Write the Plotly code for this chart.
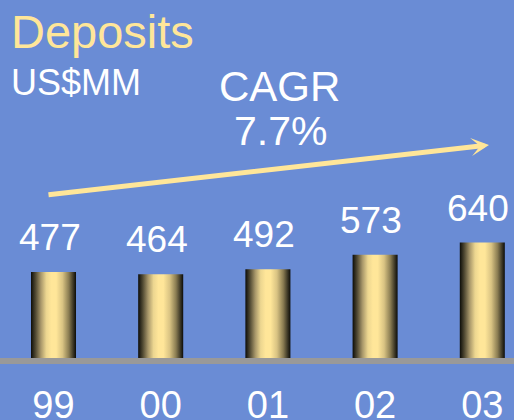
import plotly.graph_objects as go

# ---- data ----
years = ["99", "00", "01", "02", "03"]
deposits = [477, 464, 492, 573, 640]
title_text = "Deposits"
unit_text = "US$MM"
cagr_label = "CAGR"
cagr_value = "7.7%"

# ---- style ----
BG = "#6A8CD5"
GOLD = "#FFE699"
FONT = "Liberation Sans, Arial, sans-serif"
W, H = 514, 420
MT, MB = 0, 62
PH = H - MT - MB
PX_PER_CAT = 107.2
FIRST_CENTER = 53.5
BAR_HALF = 0.21
Y_SCALE = 0.1803  # px per unit

grad = [
    [0.0, "#0c0c08"], [0.1, "#4f4832"], [0.22, "#a8976a"], [0.34, "#ecd690"],
    [0.45, "#FFE699"], [0.56, "#FFE699"], [0.7, "#d9c383"], [0.84, "#8a7c52"],
    [0.94, "#3a3524"], [1.0, "#0c0c08"],
]

fig = go.Figure()
for i, v in enumerate(deposits):
    fig.add_trace(go.Scatter(
        x=[i - BAR_HALF, i + BAR_HALF, i + BAR_HALF, i - BAR_HALF, i - BAR_HALF],
        y=[0, 0, v, v, 0],
        fill="toself", mode="lines", line=dict(width=0, color="rgba(0,0,0,0)"),
        fillgradient=dict(type="horizontal", colorscale=grad),
        hoverinfo="skip", showlegend=False,
    ))

annotations = []
for i, v in enumerate(deposits):
    annotations.append(dict(
        x=i, y=v, xref="x", yref="y", text=str(v), showarrow=False,
        yanchor="bottom", yshift=12, xshift=-4,
        font=dict(family=FONT, size=37, color="white"),
    ))

annotations += [
    dict(x=9 / W, y=1 - 3 / PH, xref="paper", yref="paper", text=title_text,
         showarrow=False, xanchor="left", yanchor="top",
         font=dict(family=FONT, size=47, color=GOLD)),
    dict(x=9 / W, y=1 - 60 / PH, xref="paper", yref="paper", text=unit_text,
         showarrow=False, xanchor="left", yanchor="top",
         font=dict(family=FONT, size=36, color="white")),
    dict(x=279.5 / W, y=1 - 61 / PH, xref="paper", yref="paper", text=cagr_label,
         showarrow=False, xanchor="center", yanchor="top",
         font=dict(family=FONT, size=42, color="white")),
    dict(x=280 / W, y=1 - 106 / PH, xref="paper", yref="paper", text=cagr_value,
         showarrow=False, xanchor="center", yanchor="top",
         font=dict(family=FONT, size=41, color="white")),
    dict(x=489 / W, y=1 - 145 / PH, xref="paper", yref="paper", text="",
         showarrow=True, ax=-442, ay=50, arrowhead=3, arrowsize=0.6,
         arrowwidth=5, arrowcolor=GOLD, standoff=0),
]

fig.update_layout(
    width=W, height=H, autosize=False,
    margin=dict(l=0, r=0, t=MT, b=MB, pad=0),
    paper_bgcolor=BG, plot_bgcolor=BG,
    showlegend=False,
    annotations=annotations,
    shapes=[dict(type="rect", xref="paper", yref="paper", x0=0, x1=1,
                 y0=0, y1=-6 / PH, fillcolor="#999999", line=dict(width=0),
                 layer="above")],
    xaxis=dict(
        range=[-FIRST_CENTER / PX_PER_CAT, (W - FIRST_CENTER) / PX_PER_CAT],
        tickvals=list(range(len(years))), ticktext=years,
        tickfont=dict(family=FONT, size=38, color="white"),
        showgrid=False, zeroline=False, showline=False, ticks="",
        ticklabelstandoff=21, automargin=False,
        fixedrange=True,
    ),
    yaxis=dict(range=[0, PH / Y_SCALE], visible=False, showgrid=False,
               zeroline=False, fixedrange=True, automargin=False),
)

fig.write_html(
    "out.html",
    config={"displayModeBar": False, "staticPlot": True},
    post_script="document.body.style.margin='0px';document.body.style.overflow='hidden';",
)
